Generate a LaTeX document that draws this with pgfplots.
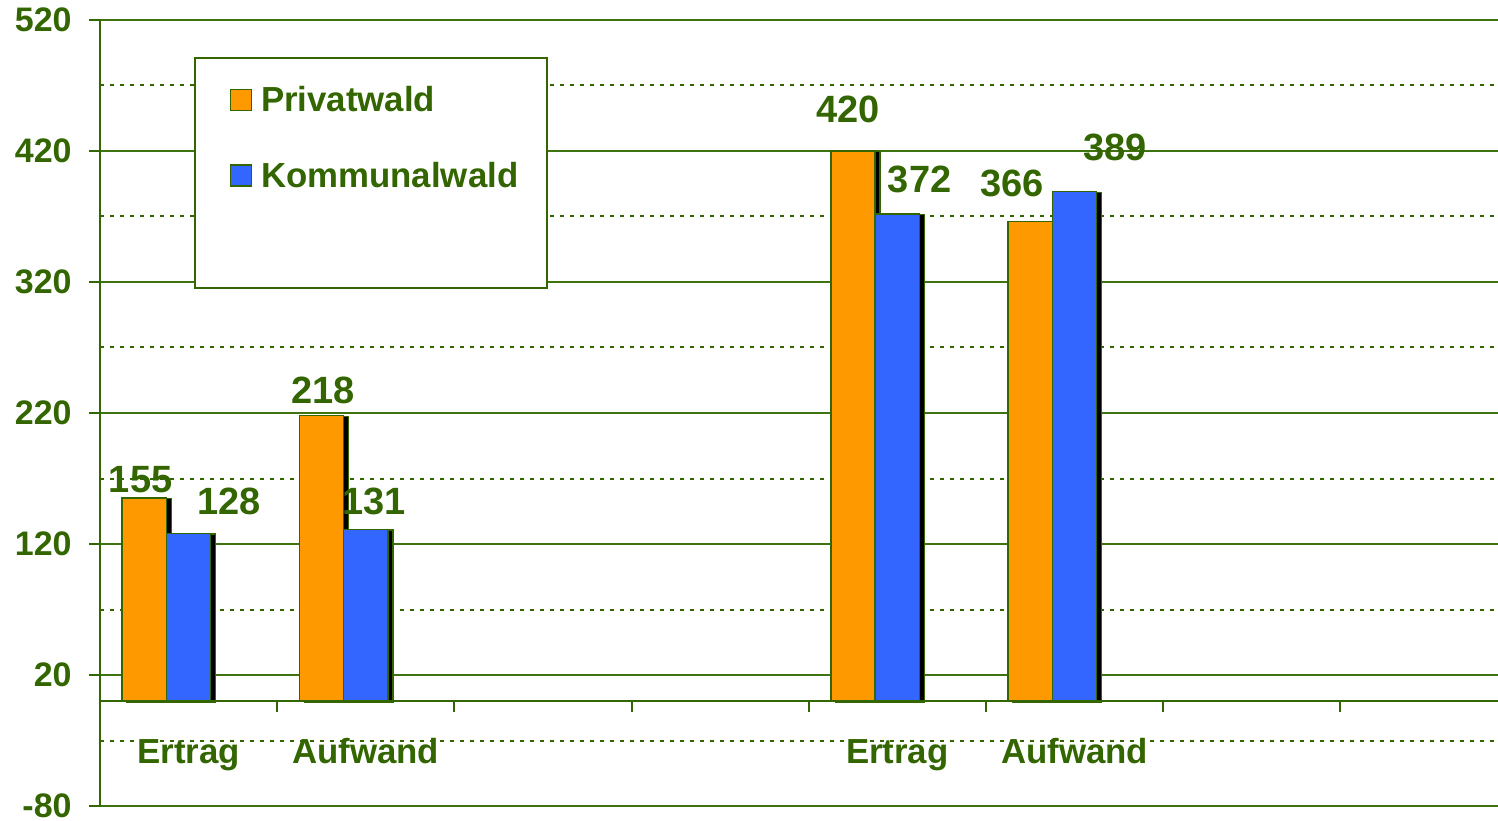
\documentclass[border=0pt]{standalone}
\usepackage{fontspec}
\setmainfont{Liberation Sans}
\usepackage{pgfplots}
\pgfplotsset{compat=1.18}
\usetikzlibrary{shadows}
\definecolor{dgreen}{HTML}{336600}
\definecolor{gridgreen}{HTML}{3F7310}
\definecolor{porange}{HTML}{FF9900}
\definecolor{kblue}{HTML}{3366FF}
\newcommand{\bigfont}{\fontsize{17}{20}\selectfont\bfseries}
\newcommand{\catfont}{\fontsize{17.4}{20}\selectfont\bfseries}
\newcommand{\valfont}{\fontsize{19}{22}\selectfont\bfseries}
\tikzset{lbl/.style={anchor=base, font=\catfont, text=dgreen, inner sep=0pt},
         vlbl/.style={anchor=base, font=\valfont, text=dgreen, inner sep=0pt}}
\begin{document}
\begin{tikzpicture}
\begin{axis}[
  scale only axis, width=699pt, height=393pt,
  xmin=-0.5, xmax=7.39, ymin=-80, ymax=520,
  axis x line=none, axis y line*=left,
  axis line style={dgreen, line width=1pt},
  xtick=\empty,
  ytick={-80,20,120,220,320,420,520},
  minor ytick={-30,70,170,270,370,470},
  ymajorgrids, yminorgrids,
  major grid style={gridgreen, line width=1pt},
  minor grid style={dgreen, line width=1pt, dash pattern=on 2.2pt off 2.8pt},
  ytick align=outside, major tick length=5.5pt, minor tick length=0pt,
  tick style={dgreen, line width=1pt},
  yticklabel style={font=\bigfont, text=dgreen, inner sep=0pt, xshift=-8.5pt},
  /pgf/number format/assume math mode=true,
  clip=false,
  legend cell align=left,
  legend style={draw=none, fill=none, at={(axis cs:0.231,468.9)}, anchor=north west,
    inner sep=0pt, row sep=25.85pt, column sep=4.4pt, font=\catfont, text=dgreen,
    nodes={inner sep=0pt, text height=12pt, text depth=0pt}},
  legend image code/.code={\draw[#1, draw=dgreen, line width=0.7pt] (0pt,-5.5pt) rectangle (10.5pt,5pt);},
]
% legend box
\draw[dgreen, line width=0.8pt, fill=white] (axis cs:0.037,315.4) rectangle (axis cs:2.024,491);

\addplot[ybar, bar width=0.25, bar shift=0pt, fill=porange, draw=dgreen, line width=0.7pt,
  drop shadow={shadow xshift=2.5pt, shadow yshift=-0.3pt, fill=black, opacity=1}, forget plot]
  coordinates {(-0.25,155) (0.75,218) (3.75,420) (4.75,366)};
\addplot[ybar, bar width=0.25, bar shift=0pt, fill=kblue, draw=dgreen, line width=0.7pt,
  drop shadow={shadow xshift=2.5pt, shadow yshift=-0.3pt, fill=black, opacity=1}, forget plot]
  coordinates {(0,128) (1,131) (4,372) (5,389)};

\addlegendimage{fill=porange}
\addlegendentry{Privatwald}
\addlegendimage{fill=kblue}
\addlegendentry{Kommunalwald}

% category axis at zero
\draw[dgreen, line width=1pt] (axis cs:-0.5,0) -- (axis cs:7.39,0);
\pgfplotsinvokeforeach{0.5,1.5,2.5,3.5,4.5,5.5,6.5}{
  \draw[dgreen, line width=1pt] (axis cs:#1,0) -- ([yshift=-5.5pt]axis cs:#1,0);
}

% category labels
\node[lbl] at (axis cs:0,-47.5) {Ertrag};
\node[lbl] at (axis cs:1,-47.5) {Aufwand};
\node[lbl] at (axis cs:4,-47.5) {Ertrag};
\node[lbl] at (axis cs:5,-47.5) {Aufwand};

% value labels
\node[vlbl] at (axis cs:-0.271,159.5) {155};
\node[vlbl] at (axis cs:0.229,142.7) {128};
\node[vlbl] at (axis cs:0.757,227.5) {218};
\node[vlbl] at (axis cs:1.048,142.7) {131};
\node[vlbl] at (axis cs:3.723,442) {420};
\node[vlbl] at (axis cs:4.126,388.5) {372};
\node[vlbl] at (axis cs:4.649,385.5) {366};
\node[vlbl] at (axis cs:5.229,413) {389};

\coordinate (sw) at (rel axis cs:0,0);
\coordinate (ne) at (rel axis cs:1,1);
\end{axis}
\pgfresetboundingbox
\path[use as bounding box] ([xshift=-50pt,yshift=-7pt]sw) rectangle ([yshift=10pt]ne);
\end{tikzpicture}
\end{document}
